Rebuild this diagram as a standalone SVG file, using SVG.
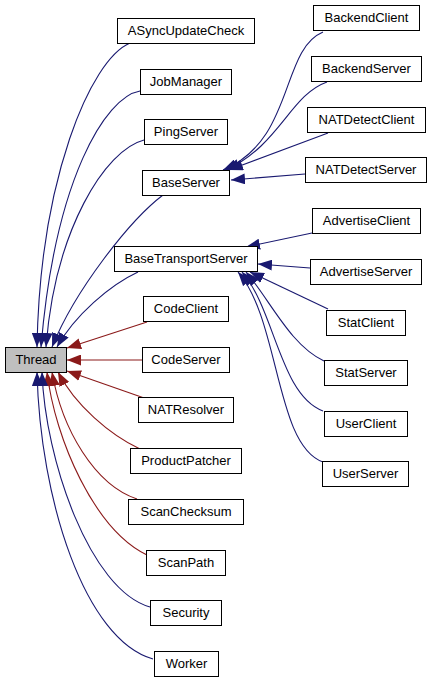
<svg xmlns="http://www.w3.org/2000/svg" width="432" height="683" viewBox="0 0 432 683">
<style>
.n rect{fill:#fff;stroke:#000;stroke-width:1}
.n text{font-family:"Liberation Sans",Arial,sans-serif;font-size:13px;fill:#000;text-anchor:middle}
#Thread rect{fill:#bfbfbf}
.e path{fill:none;stroke-width:1.1}
.pub{stroke:#191970;marker-end:url(#ab)}
.pro{stroke:#8b1a1a;marker-end:url(#ar)}
</style>
<defs>
<marker id="ab" markerUnits="userSpaceOnUse" markerWidth="14" markerHeight="11" viewBox="0 0 14 11" refX="14" refY="5.5" orient="auto"><path d="M0,0 L14,5.5 L0,11 z" fill="#191970"/></marker>
<marker id="ar" markerUnits="userSpaceOnUse" markerWidth="14" markerHeight="11" viewBox="0 0 14 11" refX="14" refY="5.5" orient="auto"><path d="M0,0 L14,5.5 L0,11 z" fill="#8b1a1a"/></marker>
</defs>
<rect width="432" height="683" fill="#fff"/>
<g id="edges" class="e">
<path class="pub" d="M130,43 C90,60 40,180 37,347"/>
<path class="pub" d="M140,91 C105,97 55,180 41,347"/>
<path class="pub" d="M144,140 C105,150 55,230 46,347"/>
<path class="pub" d="M163,195 C130,220 75,290 52,347"/>
<path class="pub" d="M138,272 C110,285 75,315 57,347"/>
<path class="pro" d="M147,322 L67,348"/>
<path class="pro" d="M142,360 L67,360"/>
<path class="pro" d="M147,399 L67,371"/>
<path class="pro" d="M140,449 C110,435 75,405 58,372"/>
<path class="pro" d="M137,499 C95,485 62,430 52,372"/>
<path class="pro" d="M147,555 C95,530 55,440 47,372"/>
<path class="pub" d="M150,607 C90,590 45,460 42,372"/>
<path class="pub" d="M153,659 C85,640 40,500 37,372"/>
<path class="pub" d="M323,32 C280,50 295,140 223,170"/>
<path class="pub" d="M327,82 C290,95 280,145 226,170"/>
<path class="pub" d="M328,133 L229,170"/>
<path class="pub" d="M305,174 L231,180"/>
<path class="pub" d="M312,233 L246,247"/>
<path class="pub" d="M310,268 L258,264"/>
<path class="pub" d="M328,309 L250,272"/>
<path class="pub" d="M324,361 C290,345 270,300 246,272"/>
<path class="pub" d="M323,411 C280,395 275,310 242,272"/>
<path class="pub" d="M323,462 C275,445 280,320 238,272"/>
</g>
<g id="Thread" class="n"><rect x="5.5" y="347.5" width="61" height="25"/><text x="36" y="364">Thread</text></g>
<g id="ASyncUpdateCheck" class="n"><rect x="117.5" y="18.5" width="137" height="25"/><text x="186" y="35">ASyncUpdateCheck</text></g>
<g id="JobManager" class="n"><rect x="140.5" y="69.5" width="91" height="25"/><text x="186" y="86">JobManager</text></g>
<g id="PingServer" class="n"><rect x="144.5" y="119.5" width="83" height="25"/><text x="186" y="136">PingServer</text></g>
<g id="BaseServer" class="n"><rect x="142.5" y="170.5" width="87" height="25"/><text x="186" y="187">BaseServer</text></g>
<g id="BaseTransportServer" class="n"><rect x="114.5" y="246.5" width="143" height="25"/><text x="186" y="263">BaseTransportServer</text></g>
<g id="CodeClient" class="n"><rect x="143.5" y="296.5" width="85" height="25"/><text x="186" y="313">CodeClient</text></g>
<g id="CodeServer" class="n"><rect x="142.5" y="347.5" width="87" height="25"/><text x="186" y="364">CodeServer</text></g>
<g id="NATResolver" class="n"><rect x="138.5" y="397.5" width="95" height="25"/><text x="186" y="414">NATResolver</text></g>
<g id="ProductPatcher" class="n"><rect x="130.5" y="448.5" width="111" height="25"/><text x="186" y="465">ProductPatcher</text></g>
<g id="ScanChecksum" class="n"><rect x="128.5" y="499.5" width="115" height="25"/><text x="186" y="516">ScanChecksum</text></g>
<g id="ScanPath" class="n"><rect x="146.5" y="550.5" width="79" height="25"/><text x="186" y="567">ScanPath</text></g>
<g id="Security" class="n"><rect x="150.5" y="600.5" width="71" height="25"/><text x="186" y="617">Security</text></g>
<g id="Worker" class="n"><rect x="154.5" y="651.5" width="64" height="25"/><text x="186.5" y="668">Worker</text></g>
<g id="BackendClient" class="n"><rect x="313.5" y="5.5" width="106" height="25"/><text x="366.5" y="22">BackendClient</text></g>
<g id="BackendServer" class="n"><rect x="311.5" y="56.5" width="110" height="25"/><text x="366.5" y="73">BackendServer</text></g>
<g id="NATDetectClient" class="n"><rect x="307.5" y="107.5" width="118" height="25"/><text x="366.5" y="124">NATDetectClient</text></g>
<g id="NATDetectServer" class="n"><rect x="305.5" y="157.5" width="121" height="25"/><text x="366" y="174">NATDetectServer</text></g>
<g id="AdvertiseClient" class="n"><rect x="312.5" y="208.5" width="108" height="25"/><text x="366.5" y="225">AdvertiseClient</text></g>
<g id="AdvertiseServer" class="n"><rect x="310.5" y="259.5" width="111" height="25"/><text x="366" y="276">AdvertiseServer</text></g>
<g id="StatClient" class="n"><rect x="326.5" y="310.5" width="79" height="25"/><text x="366" y="327">StatClient</text></g>
<g id="StatServer" class="n"><rect x="324.5" y="360.5" width="83" height="25"/><text x="366" y="377">StatServer</text></g>
<g id="UserClient" class="n"><rect x="324.5" y="411.5" width="83" height="25"/><text x="366" y="428">UserClient</text></g>
<g id="UserServer" class="n"><rect x="322.5" y="461.5" width="86" height="25"/><text x="365.5" y="478">UserServer</text></g>
</svg>
